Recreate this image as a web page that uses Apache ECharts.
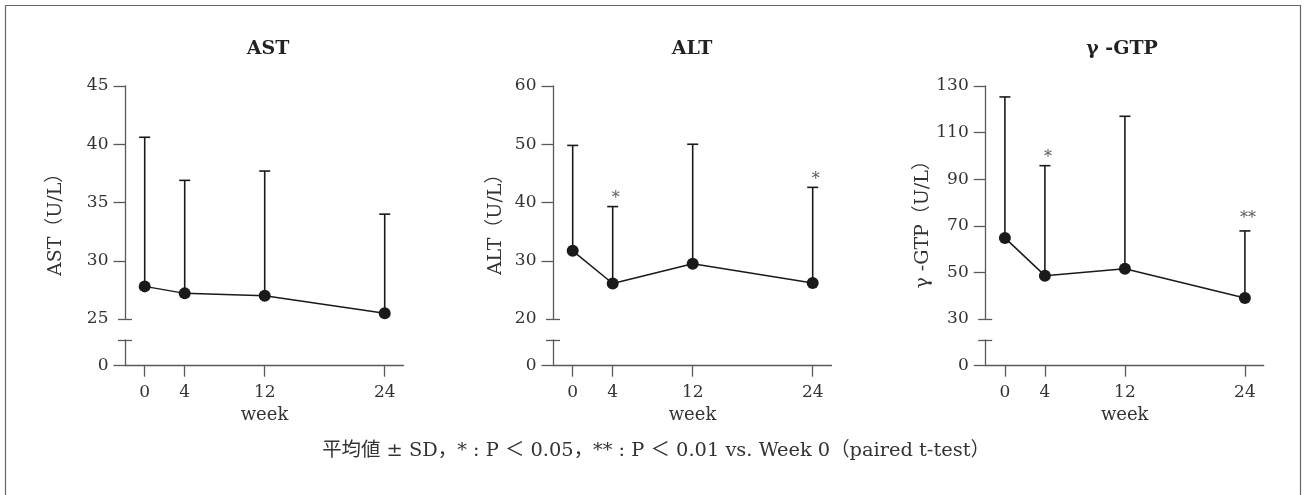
<!DOCTYPE html>
<html>
<head>
<meta charset="utf-8">
<script src="https://cdn.jsdelivr.net/npm/echarts@6/dist/echarts.min.js"></script>
<style>
html,body{margin:0;padding:0;background:#fff;}
#main{width:1306px;height:495px;}
</style>
</head>
<body>
<div id="main"></div>
<script>
// ---- data ----
const weeks = [0, 4, 12, 24];
const astMean = [27.8, 27.2, 27.0, 25.5];
const astSD   = [12.8, 9.7, 10.7, 8.5];
const astSig  = ['', '', '', ''];
const altMean = [31.7, 26.1, 29.5, 26.2];
const altSD   = [18.1, 13.2, 20.5, 16.4];
const altSig  = ['', '*', '', '*'];
const gtpMean = [64.8, 48.6, 51.6, 39.0];
const gtpSD   = [60.5, 47.2, 65.4, 28.8];
const gtpSig  = ['', '*', '', '**'];
const astTicks = [25, 30, 35, 40, 45];
const altTicks = [20, 30, 40, 50, 60];
const gtpTicks = [30, 50, 70, 90, 110, 130];
const titles = ['AST', 'ALT', 'γ -GTP'];
const yNames = ['AST（U/L）', 'ALT（U/L）', 'γ -GTP（U/L）'];
const xName = 'week';
const footnote = '平均値 ± SD，* : P ＜ 0.05，** : P ＜ 0.01 vs. Week 0（paired t-test）';

// ---- layout ----
const FONT = "'DejaVu Serif', 'Noto Sans CJK JP', serif";
const AXIS = '#5a5a5a';
const TXT = '#333';
const INK = '#1a1a1a';
const X_MIN = -1.92, X_MAX = 25.88;
const panels = [
  {mean: astMean, sd: astSD, sig: astSig, ticks: astTicks, left: 125.5, nameGap: 60, titleX: 268},
  {mean: altMean, sd: altSD, sig: altSig, ticks: altTicks, left: 553.5, nameGap: 48, titleX: 692},
  {mean: gtpMean, sd: gtpSD, sig: gtpSig, ticks: gtpTicks, left: 985.7, nameGap: 53, titleX: 1122}
];
const GW = 278, UP_TOP = 86, UP_H = 233, LO_TOP = 340, LO_H = 25.7;

const grid = [], xAxis = [], yAxis = [], series = [], title = [];
panels.forEach((p, i) => {
  const g0 = i * 3;
  grid.push({left: p.left, top: UP_TOP, width: GW, height: UP_H});
  grid.push({left: p.left, top: LO_TOP, width: GW, height: LO_H});
  grid.push({left: p.left, top: UP_TOP - 6, width: GW, height: LO_TOP + LO_H - UP_TOP});
  // x axes
  xAxis.push({gridIndex: g0, type: 'value', min: X_MIN, max: X_MAX, show: false});
  xAxis.push({gridIndex: g0 + 1, type: 'value', min: X_MIN, max: X_MAX, position: 'bottom',
    axisLine: {onZero: false, lineStyle: {color: AXIS, width: 1.3}},
    axisTick: {customValues: weeks, length: 11, lineStyle: {color: AXIS, width: 1.3}},
    axisLabel: {customValues: weeks, margin: 18, color: TXT, fontFamily: FONT, fontSize: 17},
    splitLine: {show: false},
    name: xName, nameLocation: 'middle', nameGap: 41,
    nameTextStyle: {color: TXT, fontFamily: FONT, fontSize: 18}
  });
  xAxis.push({gridIndex: g0 + 2, type: 'value', min: X_MIN, max: X_MAX, show: false});
  const tmin = p.ticks[0], tmax = p.ticks[p.ticks.length - 1];
  const yi = yAxis.length;
  // upper main y axis
  yAxis.push({gridIndex: g0, type: 'value', min: tmin, max: tmax, position: 'left',
    axisLine: {show: true, onZero: false, lineStyle: {color: AXIS, width: 1.3}},
    axisTick: {show: true, customValues: p.ticks.slice(1), length: 12, lineStyle: {color: AXIS, width: 1.3}},
    axisLabel: {customValues: p.ticks, margin: 17, color: TXT, fontFamily: FONT, fontSize: 17},
    splitLine: {show: false}
  });
  // upper break mark
  yAxis.push({gridIndex: g0, type: 'value', min: tmin, max: tmax, position: 'left', offset: -6.5,
    axisLine: {show: false, onZero: false},
    axisTick: {show: true, customValues: [tmin], length: 14, lineStyle: {color: AXIS, width: 1.3}},
    axisLabel: {show: false}, splitLine: {show: false}
  });
  // lower y axis
  yAxis.push({gridIndex: g0 + 1, type: 'value', min: 0, max: 1, position: 'left',
    axisLine: {show: true, onZero: false, lineStyle: {color: AXIS, width: 1.3}},
    axisTick: {show: true, customValues: [0], length: 12, lineStyle: {color: AXIS, width: 1.3}},
    axisLabel: {customValues: [0], margin: 17, color: TXT, fontFamily: FONT, fontSize: 17},
    splitLine: {show: false}
  });
  // lower break mark
  yAxis.push({gridIndex: g0 + 1, type: 'value', min: 0, max: 1, position: 'left', offset: -6.5,
    axisLine: {show: false, onZero: false},
    axisTick: {show: true, customValues: [1], length: 14, lineStyle: {color: AXIS, width: 1.3}},
    axisLabel: {show: false}, splitLine: {show: false}
  });
  // name axis over whole panel
  yAxis.push({gridIndex: g0 + 2, type: 'value', min: 0, max: 1, position: 'left',
    axisLine: {show: false, onZero: false}, axisTick: {show: false}, axisLabel: {show: false}, splitLine: {show: false},
    name: yNames[i], nameLocation: 'middle', nameGap: p.nameGap,
    nameTextStyle: {color: TXT, fontFamily: FONT, fontSize: 19}
  });
  const pts = weeks.map((w, k) => [w, p.mean[k], p.sd[k]]);
  series.push({
    type: 'custom', xAxisIndex: g0, yAxisIndex: yi, z: 2, clip: false,
    data: pts,
    renderItem: function (params, api) {
      const x = api.value(0), m = api.value(1), s = api.value(2);
      const a = api.coord([x, m]);
      const b = api.coord([x, m + s]);
      const sig = p.sig[params.dataIndex];
      const children = [
        {type: 'line', shape: {x1: a[0], y1: a[1], x2: b[0], y2: b[1]}, style: {stroke: INK, lineWidth: 1.6}},
        {type: 'line', shape: {x1: b[0] - 5.5, y1: b[1], x2: b[0] + 5.5, y2: b[1]}, style: {stroke: INK, lineWidth: 1.6}}
      ];
      if (sig) {
        children.push({type: 'text', x: b[0] + 3, y: b[1] - (sig.length > 1 ? 12 : 8),
          style: {text: sig, fill: '#555', font: "16px " + FONT, textAlign: 'center', textVerticalAlign: 'middle'}});
      }
      return {type: 'group', children: children};
    }
  });
  series.push({
    type: 'line', xAxisIndex: g0, yAxisIndex: yi, z: 3,
    data: weeks.map((w, k) => [w, p.mean[k]]),
    symbol: 'circle', symbolSize: 12,
    itemStyle: {color: INK},
    lineStyle: {color: INK, width: 1.5},
    animation: false
  });
  title.push({text: titles[i], left: p.titleX, top: 40, textAlign: 'center', padding: 0,
    textStyle: {fontFamily: FONT, fontSize: 19, fontWeight: 'bold', color: '#222'}});
});
title.push({text: footnote, left: 656, top: 441, textAlign: 'center', padding: 0,
  textStyle: {fontFamily: FONT, fontSize: 19.4, fontWeight: 'normal', color: TXT}});

const chart = echarts.init(document.getElementById('main'), null, {renderer: 'canvas'});
chart.setOption({
  animation: false,
  backgroundColor: '#fff',
  title: title,
  grid: grid,
  xAxis: xAxis,
  yAxis: yAxis,
  series: series,
  graphic: [{type: 'rect', shape: {x: 5.5, y: 5.5, width: 1295, height: 520},
    style: {fill: 'none', stroke: '#666', lineWidth: 1.2}, silent: true}]
});
</script>
</body>
</html>
